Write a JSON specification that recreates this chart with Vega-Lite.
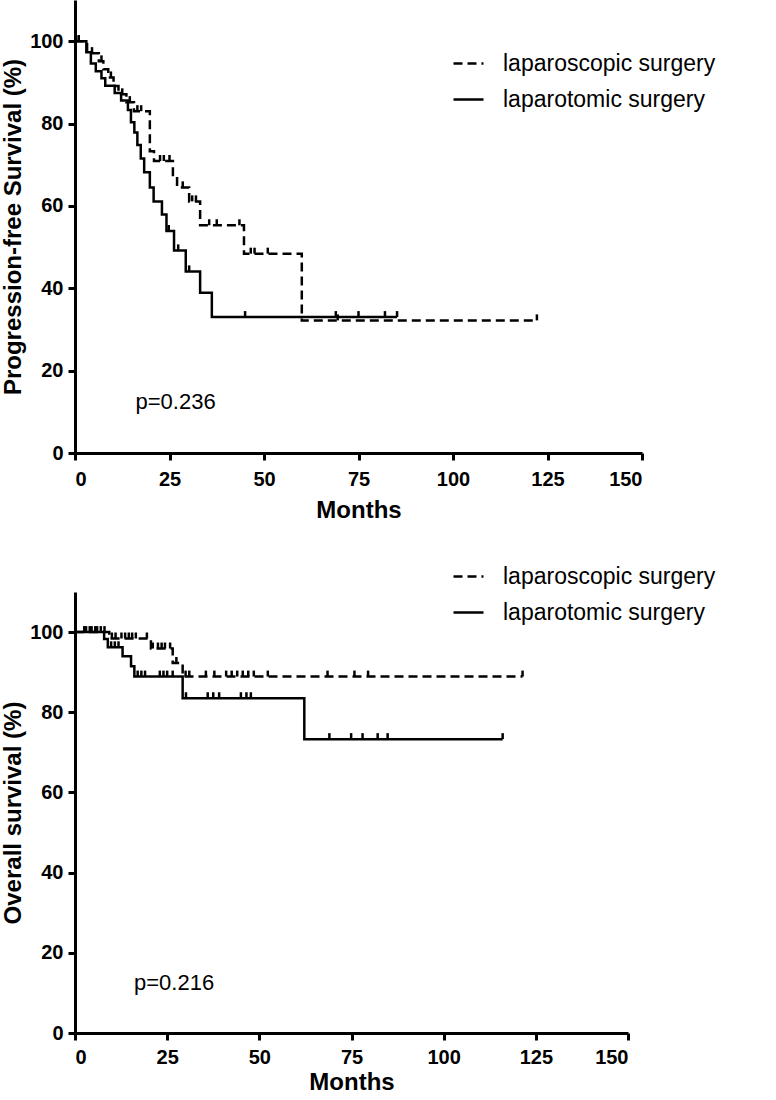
{
  "$schema": "https://vega.github.io/schema/vega-lite/v6.json",
  "padding": {"left": 1, "top": 0, "right": 0, "bottom": 0},
  "spacing": 38,
  "config": {
    "font": "Liberation Sans",
    "view": {"stroke": null},
    "axis": {
      "grid": false,
      "domainColor": "black",
      "domainWidth": 3,
      "tickColor": "black",
      "tickWidth": 3,
      "tickSize": 7,
      "labelFont": "Liberation Sans",
      "labelFontSize": 20,
      "labelFontWeight": "bold",
      "labelColor": "black",
      "labelPadding": 5,
      "titleFont": "Liberation Sans",
      "titleFontSize": 24,
      "titleFontWeight": "bold",
      "titleColor": "black",
      "titlePadding": 4
    },
    "legend": {
      "labelFont": "Liberation Sans",
      "labelFontSize": 23,
      "labelColor": "black",
      "labelLimit": 0,
      "symbolType": "stroke",
      "symbolStrokeColor": "black",
      "symbolStrokeWidth": 2.5,
      "symbolSize": 900,
      "labelOffset": 18,
      "rowPadding": 7
    }
  },
  "datasets": {
    "pfs": [
      {"g": "laparoscopic surgery", "t": 0, "v": 100},
      {"g": "laparoscopic surgery", "t": 3.2, "v": 97.1},
      {"g": "laparoscopic surgery", "t": 6.3, "v": 95.1},
      {"g": "laparoscopic surgery", "t": 7.5, "v": 93.2},
      {"g": "laparoscopic surgery", "t": 8.8, "v": 91.2},
      {"g": "laparoscopic surgery", "t": 10.2, "v": 89.1},
      {"g": "laparoscopic surgery", "t": 11.5, "v": 87.1},
      {"g": "laparoscopic surgery", "t": 13.6, "v": 85.2},
      {"g": "laparoscopic surgery", "t": 15.6, "v": 83.0},
      {"g": "laparoscopic surgery", "t": 19.8, "v": 73.3},
      {"g": "laparoscopic surgery", "t": 20.9, "v": 70.9},
      {"g": "laparoscopic surgery", "t": 25.9, "v": 67.5},
      {"g": "laparoscopic surgery", "t": 27.0, "v": 64.5},
      {"g": "laparoscopic surgery", "t": 30.2, "v": 61.1},
      {"g": "laparoscopic surgery", "t": 33.1, "v": 55.3},
      {"g": "laparoscopic surgery", "t": 44.7, "v": 48.4},
      {"g": "laparoscopic surgery", "t": 60.0, "v": 32.2},
      {"g": "laparoscopic surgery", "t": 122.2, "v": 32.2},
      {"g": "laparotomic surgery", "t": 0, "v": 100},
      {"g": "laparotomic surgery", "t": 3.0, "v": 97.3},
      {"g": "laparotomic surgery", "t": 4.2, "v": 94.6},
      {"g": "laparotomic surgery", "t": 5.5, "v": 92.7},
      {"g": "laparotomic surgery", "t": 7.0, "v": 91.0},
      {"g": "laparotomic surgery", "t": 8.0, "v": 89.2},
      {"g": "laparotomic surgery", "t": 10.5, "v": 87.4},
      {"g": "laparotomic surgery", "t": 12.2, "v": 85.6},
      {"g": "laparotomic surgery", "t": 14.0, "v": 83.3},
      {"g": "laparotomic surgery", "t": 14.8, "v": 80.3},
      {"g": "laparotomic surgery", "t": 15.7, "v": 77.8},
      {"g": "laparotomic surgery", "t": 16.5, "v": 74.8},
      {"g": "laparotomic surgery", "t": 17.4, "v": 71.5},
      {"g": "laparotomic surgery", "t": 18.3, "v": 68.2},
      {"g": "laparotomic surgery", "t": 19.8, "v": 64.5},
      {"g": "laparotomic surgery", "t": 20.8, "v": 61.1},
      {"g": "laparotomic surgery", "t": 23.0, "v": 57.9},
      {"g": "laparotomic surgery", "t": 24.2, "v": 53.9},
      {"g": "laparotomic surgery", "t": 26.2, "v": 49.2},
      {"g": "laparotomic surgery", "t": 29.3, "v": 44.1},
      {"g": "laparotomic surgery", "t": 33.1, "v": 38.9},
      {"g": "laparotomic surgery", "t": 36.2, "v": 33.0},
      {"g": "laparotomic surgery", "t": 85.2, "v": 33.0}
    ],
    "pfs_c": [
      {"g": "laparoscopic surgery", "t": 1, "v": 100},
      {"g": "laparoscopic surgery", "t": 4.5, "v": 97.1},
      {"g": "laparoscopic surgery", "t": 7, "v": 95.1},
      {"g": "laparoscopic surgery", "t": 9.5, "v": 91.2},
      {"g": "laparoscopic surgery", "t": 12.5, "v": 87.1},
      {"g": "laparoscopic surgery", "t": 14.5, "v": 85.2},
      {"g": "laparoscopic surgery", "t": 16.5, "v": 83.0},
      {"g": "laparoscopic surgery", "t": 17.5, "v": 83.0},
      {"g": "laparoscopic surgery", "t": 22.5, "v": 70.9},
      {"g": "laparoscopic surgery", "t": 23.5, "v": 70.9},
      {"g": "laparoscopic surgery", "t": 25, "v": 70.9},
      {"g": "laparoscopic surgery", "t": 28.5, "v": 64.5},
      {"g": "laparoscopic surgery", "t": 31, "v": 61.1},
      {"g": "laparoscopic surgery", "t": 32, "v": 61.1},
      {"g": "laparoscopic surgery", "t": 35.5, "v": 55.3},
      {"g": "laparoscopic surgery", "t": 37.5, "v": 55.3},
      {"g": "laparoscopic surgery", "t": 43.5, "v": 55.3},
      {"g": "laparoscopic surgery", "t": 46.5, "v": 48.4},
      {"g": "laparoscopic surgery", "t": 47.5, "v": 48.4},
      {"g": "laparoscopic surgery", "t": 51, "v": 48.4},
      {"g": "laparoscopic surgery", "t": 69.5, "v": 32.2},
      {"g": "laparoscopic surgery", "t": 122.2, "v": 32.2},
      {"g": "laparotomic surgery", "t": 1, "v": 100},
      {"g": "laparotomic surgery", "t": 24.8, "v": 53.9},
      {"g": "laparotomic surgery", "t": 27.3, "v": 49.2},
      {"g": "laparotomic surgery", "t": 30.2, "v": 44.1},
      {"g": "laparotomic surgery", "t": 45, "v": 33.0},
      {"g": "laparotomic surgery", "t": 69, "v": 33.0},
      {"g": "laparotomic surgery", "t": 75, "v": 33.0},
      {"g": "laparotomic surgery", "t": 82, "v": 33.0},
      {"g": "laparotomic surgery", "t": 85.2, "v": 33.0}
    ],
    "os": [
      {"g": "laparoscopic surgery", "t": 0, "v": 100},
      {"g": "laparoscopic surgery", "t": 9.3, "v": 98.4},
      {"g": "laparoscopic surgery", "t": 20.6, "v": 95.9},
      {"g": "laparoscopic surgery", "t": 26.5, "v": 92.3},
      {"g": "laparoscopic surgery", "t": 29.2, "v": 88.9},
      {"g": "laparoscopic surgery", "t": 121.4, "v": 88.9},
      {"g": "laparotomic surgery", "t": 0, "v": 100},
      {"g": "laparotomic surgery", "t": 7.9, "v": 98.3},
      {"g": "laparotomic surgery", "t": 8.9, "v": 96.2},
      {"g": "laparotomic surgery", "t": 12.9, "v": 94.0},
      {"g": "laparotomic surgery", "t": 15.2, "v": 91.5},
      {"g": "laparotomic surgery", "t": 16.1, "v": 88.9},
      {"g": "laparotomic surgery", "t": 29.2, "v": 83.5},
      {"g": "laparotomic surgery", "t": 62.2, "v": 73.3},
      {"g": "laparotomic surgery", "t": 116, "v": 73.3}
    ],
    "os_c": [
      {"g": "laparoscopic surgery", "t": 3, "v": 100},
      {"g": "laparoscopic surgery", "t": 4.5, "v": 100},
      {"g": "laparoscopic surgery", "t": 6, "v": 100},
      {"g": "laparoscopic surgery", "t": 8, "v": 100},
      {"g": "laparoscopic surgery", "t": 10, "v": 98.4},
      {"g": "laparoscopic surgery", "t": 11, "v": 98.4},
      {"g": "laparoscopic surgery", "t": 12.6, "v": 98.4},
      {"g": "laparoscopic surgery", "t": 13.6, "v": 98.4},
      {"g": "laparoscopic surgery", "t": 14.6, "v": 98.4},
      {"g": "laparoscopic surgery", "t": 15.5, "v": 98.4},
      {"g": "laparoscopic surgery", "t": 16.5, "v": 98.4},
      {"g": "laparoscopic surgery", "t": 19.5, "v": 98.4},
      {"g": "laparoscopic surgery", "t": 21.1, "v": 95.9},
      {"g": "laparoscopic surgery", "t": 22.5, "v": 95.9},
      {"g": "laparoscopic surgery", "t": 23.5, "v": 95.9},
      {"g": "laparoscopic surgery", "t": 24.4, "v": 95.9},
      {"g": "laparoscopic surgery", "t": 25.8, "v": 95.9},
      {"g": "laparoscopic surgery", "t": 27.5, "v": 92.3},
      {"g": "laparoscopic surgery", "t": 30, "v": 88.9},
      {"g": "laparoscopic surgery", "t": 31, "v": 88.9},
      {"g": "laparoscopic surgery", "t": 35.5, "v": 88.9},
      {"g": "laparoscopic surgery", "t": 37.8, "v": 88.9},
      {"g": "laparoscopic surgery", "t": 41, "v": 88.9},
      {"g": "laparoscopic surgery", "t": 42.5, "v": 88.9},
      {"g": "laparoscopic surgery", "t": 44, "v": 88.9},
      {"g": "laparoscopic surgery", "t": 45.5, "v": 88.9},
      {"g": "laparoscopic surgery", "t": 47, "v": 88.9},
      {"g": "laparoscopic surgery", "t": 48.5, "v": 88.9},
      {"g": "laparoscopic surgery", "t": 52.3, "v": 88.9},
      {"g": "laparoscopic surgery", "t": 68.5, "v": 88.9},
      {"g": "laparoscopic surgery", "t": 75.8, "v": 88.9},
      {"g": "laparoscopic surgery", "t": 79.5, "v": 88.9},
      {"g": "laparoscopic surgery", "t": 121.4, "v": 88.9},
      {"g": "laparotomic surgery", "t": 2.5, "v": 100},
      {"g": "laparotomic surgery", "t": 4, "v": 100},
      {"g": "laparotomic surgery", "t": 5.5, "v": 100},
      {"g": "laparotomic surgery", "t": 7, "v": 100},
      {"g": "laparotomic surgery", "t": 9.8, "v": 96.2},
      {"g": "laparotomic surgery", "t": 10.8, "v": 96.2},
      {"g": "laparotomic surgery", "t": 11.8, "v": 96.2},
      {"g": "laparotomic surgery", "t": 17, "v": 88.9},
      {"g": "laparotomic surgery", "t": 18, "v": 88.9},
      {"g": "laparotomic surgery", "t": 19, "v": 88.9},
      {"g": "laparotomic surgery", "t": 23, "v": 88.9},
      {"g": "laparotomic surgery", "t": 24, "v": 88.9},
      {"g": "laparotomic surgery", "t": 25, "v": 88.9},
      {"g": "laparotomic surgery", "t": 26.5, "v": 88.9},
      {"g": "laparotomic surgery", "t": 30.1, "v": 83.5},
      {"g": "laparotomic surgery", "t": 36, "v": 83.5},
      {"g": "laparotomic surgery", "t": 37.5, "v": 83.5},
      {"g": "laparotomic surgery", "t": 39.1, "v": 83.5},
      {"g": "laparotomic surgery", "t": 45, "v": 83.5},
      {"g": "laparotomic surgery", "t": 46.5, "v": 83.5},
      {"g": "laparotomic surgery", "t": 47.7, "v": 83.5},
      {"g": "laparotomic surgery", "t": 69, "v": 73.3},
      {"g": "laparotomic surgery", "t": 74.9, "v": 73.3},
      {"g": "laparotomic surgery", "t": 78, "v": 73.3},
      {"g": "laparotomic surgery", "t": 82.1, "v": 73.3},
      {"g": "laparotomic surgery", "t": 84.8, "v": 73.3},
      {"g": "laparotomic surgery", "t": 116, "v": 73.3}
    ]
  },
  "resolve": {"scale": {"strokeDash": "independent"}, "legend": {"strokeDash": "independent"}},
  "vconcat": [
    {
      "width": 567,
      "height": 453,
      "layer": [
        {
          "data": {"name": "pfs"},
          "mark": {"type": "line", "interpolate": "step-after", "color": "black", "strokeWidth": 2.5},
          "encoding": {
            "x": {"field": "t", "type": "quantitative", "scale": {"domain": [0, 150], "nice": false}, "axis": {"values": [0, 25, 50, 75, 100, 125, 150], "title": "Months", "labelPadding": 9, "titlePadding": 9}},
            "y": {"field": "v", "type": "quantitative", "scale": {"domain": [0, 110], "nice": false}, "axis": {"values": [0, 20, 40, 60, 80, 100], "title": "Progression-free Survival (%)"}},
            "strokeDash": {"field": "g", "type": "nominal", "scale": {"domain": ["laparoscopic surgery", "laparotomic surgery"], "range": [[9, 5], [1, 0]]}, "legend": {"orient": "none", "legendX": 377, "legendY": 47, "title": null}}
          }
        },
        {
          "data": {"name": "pfs_c"},
          "mark": {"type": "tick", "orient": "vertical", "color": "black", "opacity": 1, "size": 6, "thickness": 2.5, "yOffset": -3},
          "encoding": {
            "x": {"field": "t", "type": "quantitative"},
            "y": {"field": "v", "type": "quantitative"}
          }
        },
        {
          "data": {"values": [{"t": 16, "v": 12.4, "label": "p=0.236"}]},
          "mark": {"type": "text", "align": "left", "baseline": "middle", "fontSize": 22, "font": "Liberation Sans", "color": "black"},
          "encoding": {
            "x": {"field": "t", "type": "quantitative"},
            "y": {"field": "v", "type": "quantitative"},
            "text": {"field": "label"}
          }
        }
      ]
    },
    {
      "width": 553,
      "height": 441,
      "layer": [
        {
          "data": {"name": "os"},
          "mark": {"type": "line", "interpolate": "step-after", "color": "black", "strokeWidth": 2.5},
          "encoding": {
            "x": {"field": "t", "type": "quantitative", "scale": {"domain": [0, 150], "nice": false}, "axis": {"values": [0, 25, 50, 75, 100, 125, 150], "title": "Months", "labelPadding": 7, "titlePadding": 3}},
            "y": {"field": "v", "type": "quantitative", "scale": {"domain": [0, 110], "nice": false}, "axis": {"values": [0, 20, 40, 60, 80, 100], "title": "Overall survival (%)"}},
            "strokeDash": {"field": "g", "type": "nominal", "scale": {"domain": ["laparoscopic surgery", "laparotomic surgery"], "range": [[9, 5], [1, 0]]}, "legend": {"orient": "none", "legendX": 377, "legendY": -32, "title": null}}
          }
        },
        {
          "data": {"name": "os_c"},
          "mark": {"type": "tick", "orient": "vertical", "color": "black", "opacity": 1, "size": 6, "thickness": 2.5, "yOffset": -3},
          "encoding": {
            "x": {"field": "t", "type": "quantitative"},
            "y": {"field": "v", "type": "quantitative"}
          }
        },
        {
          "data": {"values": [{"t": 16, "v": 12.5, "label": "p=0.216"}]},
          "mark": {"type": "text", "align": "left", "baseline": "middle", "fontSize": 22, "font": "Liberation Sans", "color": "black"},
          "encoding": {
            "x": {"field": "t", "type": "quantitative"},
            "y": {"field": "v", "type": "quantitative"},
            "text": {"field": "label"}
          }
        }
      ]
    }
  ]
}
